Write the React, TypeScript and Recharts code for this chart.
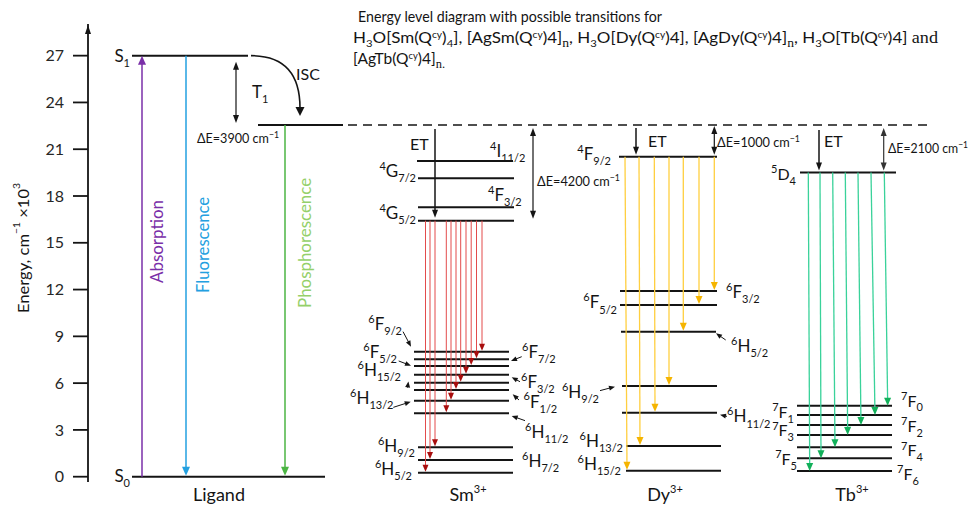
import React from "react";
import {
  ComposedChart,
  XAxis,
  YAxis,
  ReferenceLine,
  ReferenceDot,
  Scatter,
} from "recharts";

const FONT = "Lato, 'Noto Sans', sans-serif";
const SERIF = "'Liberation Serif', 'DejaVu Serif', serif";
const INK = "#141414";

// ---- values (energy in 10^3 cm-1) ----
const yTicks = [0, 3, 6, 9, 12, 15, 18, 21, 24, 27];
const ionNames = ["Ligand", "Sm", "Dy", "Tb"];
const ionCharges = ["", "3+", "3+", "3+"];

const ligandTerms = ["S1", "T1", "S0"];
const ligandEnergy = [27, 22.55, 0];
const ligandBands = ["Absorption", "Fluorescence", "Phosphorescence"];

const smUpperTerms = ["4I11/2", "4G7/2", "4F3/2", "4G5/2"];
const smUpperEnergy = [20.25, 19.14, 17.28, 16.42];
const smLowerTerms = [
  "6F9/2", "6F7/2", "6F5/2", "6F3/2", "6H15/2", "6F1/2",
  "6H13/2", "6H11/2", "6H9/2", "6H7/2", "6H5/2",
];
const smLowerEnergy = [8.02, 7.53, 7.1, 6.54, 6.03, 5.56, 4.87, 4.07, 1.89, 1.07, 0.26];

const dyTerms = ["4F9/2", "6F3/2", "6F5/2", "6H5/2", "6H9/2", "6H11/2", "6H13/2", "6H15/2"];
const dyEnergy = [20.52, 11.91, 11.01, 9.3, 5.82, 4.1, 1.97, 0.38];

const tbTerms = ["5D4", "7F0", "7F1", "7F2", "7F3", "7F4", "7F5", "7F6"];
const tbEnergy = [19.5, 4.55, 3.96, 3.32, 2.68, 1.89, 1.18, 0.37];

// emission: upper level -> index of lower level
const smEmissionTo = [0, 1, 2, 3, 4, 5, 6, 7, 8, 9, 10];
const dyEmissionTo = [1, 2, 3, 4, 5, 6, 7];
const tbEmissionTo = [1, 2, 3, 4, 5, 6, 7];

const deltaE = [3900, 4200, 1000, 2100];

// ---- layout (x in plot px, offsets in px) ----
const X_DOMAIN = [88, 971];
const Y_DOMAIN = [-0.34, 29.03];
const ionCenterX = [219, 468, 665, 852];

const ligandSpan = [[132, 248], [258, 343], [132, 325]];
const dashSpan = [348, 930];
const smUpperSpan = [[417, 513], [418, 514], [418, 514], [418, 514]];
const smLowerSpan = [
  [414, 509], [414, 509], [414, 509], [414, 509], [414, 509], [414, 509],
  [414, 509], [414, 509], [418, 513], [418, 513], [418, 513],
];
const dySpan = [[619, 717], [620, 717], [620, 717], [621, 716], [622, 717], [622, 717], [626, 721], [626, 721]];
const tbSpan = [[800, 896], [797, 892], [797, 892], [797, 892], [797, 892], [797, 892], [797, 892], [797, 892]];

const smEmissionX = [482, 476.5, 471.2, 466, 460.7, 456, 451, 446.3, 435, 430, 425.5];
const dyEmissionX = [[714.3, 714.3], [699, 699], [683.3, 683.3], [669, 669], [654.3, 655], [639, 640], [625, 627]];
const tbEmissionX = [[884.3, 887.7], [871, 875], [858, 861], [845.3, 847.7], [832.7, 835], [820, 821], [808.3, 809.7]];

type Lbl = { x: number; dy: number; a: "start" | "end" | "middle"; ptr?: number[] };

const ligandLbl: Lbl[] = [
  { x: 130, dy: 1, a: "end" },
  { x: 252, dy: -32, a: "start" },
  { x: 130, dy: 0, a: "end" },
];
const smUpperLbl: Lbl[] = [
  { x: 490, dy: -9, a: "start" },
  { x: 416, dy: -6, a: "end" },
  { x: 488, dy: -11, a: "start" },
  { x: 416, dy: -7, a: "end" },
];
const smLowerLbl: Lbl[] = [
  { x: 402, dy: -27, a: "end", ptr: [403, -20, 411, -5] },
  { x: 522, dy: -6, a: "start", ptr: [521.7, -2.6, 511, 1.7] },
  { x: 397, dy: -13, a: "end", ptr: [398.7, -5, 411, -0.3] },
  { x: 521, dy: 8, a: "start", ptr: [520, 7, 511.7, 2.6] },
  { x: 401, dy: -12, a: "end", ptr: [407.6, 5, 408.4, -1.2] },
  { x: 523.5, dy: 12.5, a: "start", ptr: [519, 10, 512.7, 4.3] },
  { x: 393.5, dy: -1.7, a: "end", ptr: [393.3, 6.6, 410.7, 1] },
  { x: 525, dy: 19.4, a: "start", ptr: [525, 7.4, 511.7, 2.7] },
  { x: 415, dy: -0.6, a: "end" },
  { x: 522, dy: 1.7, a: "start" },
  { x: 412, dy: -2.7, a: "end" },
];
const dyLbl: Lbl[] = [
  { x: 611, dy: -1.7, a: "end" },
  { x: 726, dy: 1.7, a: "start" },
  { x: 617, dy: -1.7, a: "end" },
  { x: 731, dy: 15, a: "start", ptr: [725.7, 8.3, 716, 1.6] },
  { x: 599, dy: 7.3, a: "end", ptr: [600, 4.7, 615, 0.7] },
  { x: 727, dy: 4.6, a: "start", ptr: [727, 3.6, 720, 2] },
  { x: 623, dy: -4.3, a: "end" },
  { x: 621, dy: -5.7, a: "end" },
];
const tbLbl: Lbl[] = [
  { x: 796, dy: 2.3, a: "end" },
  { x: 901, dy: -4, a: "start" },
  { x: 794, dy: -1.7, a: "end" },
  { x: 901, dy: 2.3, a: "start" },
  { x: 794, dy: -3.3, a: "end" },
  { x: 901, dy: 4.4, a: "start" },
  { x: 797, dy: 1.7, a: "end" },
  { x: 897, dy: 4, a: "start" },
];

const bandX = [142, 186, 285];
const bandLabelPos = [[156, 15.08], [201.7, 14.86], [304, 14.99]];
const bandLabelLen = [83, 96, 130];

const C = {
  abs: "#7a2fa8",
  flu: "#23a0e0",
  pho: "#4bb543",
  phoText: "#95d06a",
  smLine: "#e34b4b",
  smHead: "#a80d0d",
  dyLine: "#ffcf40",
  dyHead: "#f5b400",
  tbLine: "#3ad29a",
  tbHead: "#12b05a",
};

function headPts(tx: number, ty: number, ux: number, uy: number, L: number, W: number) {
  const bx = tx - ux * L;
  const by = ty - uy * L;
  const nx = -uy;
  const ny = ux;
  return `${tx},${ty} ${bx + (nx * W) / 2},${by + (ny * W) / 2} ${bx - (nx * W) / 2},${by - (ny * W) / 2}`;
}

type ArrowStyle = {
  stroke: string;
  head?: string;
  width?: number;
  heads?: "end" | "both" | "none";
  hl?: number;
  hw?: number;
  padStart?: number;
  padEnd?: number;
  curve?: boolean;
};

function makeArrow(s: ArrowStyle) {
  return (p: any) => {
    const { x1, y1, x2, y2 } = p;
    const hl = s.hl ?? 8;
    const hw = s.hw ?? 7;
    const fill = s.head ?? s.stroke;
    const sw = s.width ?? 1.3;
    if (s.curve) {
      return (
        <g>
          <path d={`M${x1},${y1} Q${x2},${y1} ${x2},${y2 - hl + 1}`} fill="none" stroke={s.stroke} strokeWidth={sw} />
          <polygon points={headPts(x2, y2, 0, 1, hl, hw)} fill={fill} />
        </g>
      );
    }
    const len = Math.hypot(x2 - x1, y2 - y1) || 1;
    const ux = (x2 - x1) / len;
    const uy = (y2 - y1) / len;
    const ps = s.padStart ?? 0;
    const pe = s.padEnd ?? 0;
    const sx = x1 + ux * ps;
    const sy = y1 + uy * ps;
    const ex = x2 - ux * pe;
    const ey = y2 - uy * pe;
    const heads = s.heads ?? "end";
    const hasEnd = heads !== "none";
    const hasStart = heads === "both";
    const lx1 = hasStart ? sx + ux * (hl - 1) : sx;
    const ly1 = hasStart ? sy + uy * (hl - 1) : sy;
    const lx2 = hasEnd ? ex - ux * (hl - 1) : ex;
    const ly2 = hasEnd ? ey - uy * (hl - 1) : ey;
    return (
      <g>
        <line x1={lx1} y1={ly1} x2={lx2} y2={ly2} stroke={s.stroke} strokeWidth={sw} />
        {hasEnd && <polygon points={headPts(ex, ey, ux, uy, hl, hw)} fill={fill} />}
        {hasStart && <polygon points={headPts(sx, sy, -ux, -uy, hl, hw)} fill={fill} />}
      </g>
    );
  };
}

function arrow(key: string, xa: number, ea: number, xb: number, eb: number, s: ArrowStyle) {
  return (
    <ReferenceLine
      key={key}
      segment={[{ x: xa, y: ea }, { x: xb, y: eb }]}
      ifOverflow="visible"
      shape={makeArrow(s)}
    />
  );
}

function level(key: string, span: number[], e: number, dash?: string) {
  return (
    <ReferenceLine
      key={key}
      segment={[{ x: span[0], y: e }, { x: span[1], y: e }]}
      stroke={INK}
      strokeWidth={dash ? 1.5 : 2}
      strokeDasharray={dash}
      ifOverflow="visible"
    />
  );
}

function termText(term: string, x: number, yc: number, anchor: string, size: number) {
  const m = /^(\d*)([A-Za-z]+)(.*)$/.exec(term) as RegExpExecArray;
  const sup = m[1];
  const main = m[2];
  const sub = m[3];
  const small = Math.round(size * 0.66);
  const up = size * 0.42;
  const down = size * 0.3;
  return (
    <text x={x} y={yc + size * 0.3} textAnchor={anchor} fontFamily={FONT} fontSize={size} fill={INK}>
      {sup ? (
        <tspan fontSize={small} dy={-up}>
          {sup}
        </tspan>
      ) : null}
      <tspan dy={sup ? up : 0}>{main}</tspan>
      {sub ? (
        <tspan fontSize={small} dy={down}>
          {sub}
        </tspan>
      ) : null}
    </text>
  );
}

function at(key: string, x: number, e: number, draw: (cx: number, cy: number) => React.ReactElement) {
  return (
    <ReferenceDot
      key={key}
      x={x}
      y={e}
      r={0}
      ifOverflow="visible"
      shape={(p: any) => draw(p.cx, p.cy)}
    />
  );
}

const pointer = makeArrow({ stroke: INK, width: 1, hl: 6, hw: 5 });

function termLabels(prefix: string, terms: string[], energy: number[], lbls: Lbl[], size: number) {
  return terms.map((t, i) => {
    const l = lbls[i];
    return at(prefix + i, l.x, energy[i], (cx, cy) => (
      <g>
        {termText(t, cx, cy + l.dy, l.a, size)}
        {l.ptr
          ? pointer({
              x1: cx + (l.ptr[0] - l.x),
              y1: cy + l.ptr[1],
              x2: cx + (l.ptr[2] - l.x),
              y2: cy + l.ptr[3],
            })
          : null}
      </g>
    ));
  });
}

function plainText(key: string, x: number, e: number, dy: number, text: React.ReactNode, opts: any = {}) {
  return at(key, x, e, (cx, cy) => (
    <text
      x={cx}
      y={cy + dy + (opts.size ?? 16) * 0.33}
      textAnchor={opts.anchor ?? "start"}
      fontFamily={FONT}
      fontSize={opts.size ?? 16}
      fill={INK}
      textLength={opts.len}
      lengthAdjust={opts.len ? "spacingAndGlyphs" : undefined}
    >
      {text}
    </text>
  ));
}

function deltaText(v: number) {
  return (
    <>
      <tspan>{`ΔE=${v} cm`}</tspan>
      <tspan fontSize={9} dy={-5}>
        −1
      </tspan>
    </>
  );
}

type Seg = [string, string?];
const titleLine1: Seg[] = [["Energy level diagram with possible transitions for"]];
const titleLine2: Seg[] = [
  ["H"], ["3", "sub"], ["O[Sm(Q"], ["cy", "sup"], [")"], ["4", "sub"], ["], [AgSm(Q"], ["cy", "sup"],
  [")4]"], ["n", "subS"], [", H"], ["3", "sub"], ["O[Dy(Q"], ["cy", "sup"], [")4], [AgDy(Q"], ["cy", "sup"],
  [")4]"], ["n", "subS"], [", H"], ["3", "sub"], ["O[Tb(Q"], ["cy", "sup"], [")4] "], ["and", "serif"],
];
const titleLine3: Seg[] = [["[AgTb(Q"], ["cy", "sup"], [")4]"], ["n.", "subS"]];

function TitleLine({ segs, x, y, len }: { segs: Seg[]; x: number; y: number; len: number }) {
  let cur = 0;
  return (
    <text x={x} y={y} fontFamily={FONT} fontSize={15} fill={INK} textLength={len} lengthAdjust="spacingAndGlyphs">
      {segs.map(([t, k], i) => {
        const target = k === "sub" || k === "subS" ? 4 : k === "sup" ? -5 : 0;
        const dy = target - cur;
        cur = target;
        const fs = k === "sub" ? 10 : k === "sup" ? 9 : k === "subS" ? 12 : k === "serif" ? 16 : 15;
        const ff = k === "subS" || k === "serif" ? SERIF : FONT;
        return (
          <tspan key={i} dy={dy} fontSize={fs} fontFamily={ff}>
            {t}
          </tspan>
        );
      })}
    </text>
  );
}

const axisTitle = (p: any) => {
  const vb = p.viewBox || { x: 0, y: 24, width: 88, height: 458 };
  const cx = vb.x + 22;
  const cy = vb.y + vb.height / 2 - 5;
  return (
    <text
      x={cx}
      y={cy}
      transform={`rotate(-90 ${cx} ${cy})`}
      textAnchor="middle"
      dominantBaseline="central"
      fontFamily={FONT}
      fontSize={16}
      fill={INK}
      textLength={130}
      lengthAdjust="spacingAndGlyphs"
    >
      <tspan>Energy, cm</tspan>
      <tspan fontSize={10} dy={-6}>
        −1
      </tspan>
      <tspan dy={6}> ×10</tspan>
      <tspan fontSize={10} dy={-6}>
        3
      </tspan>
    </text>
  );
};

const ionTick = (p: any) => {
  const i = ionCenterX.indexOf(p.payload.value);
  return (
    <text x={p.x} y={501} textAnchor="middle" fontFamily={FONT} fontSize={18} fill={INK}>
      <tspan>{ionNames[i]}</tspan>
      {ionCharges[i] ? (
        <tspan fontSize={11} dy={-8}>
          {ionCharges[i]}
        </tspan>
      ) : null}
    </text>
  );
};

const anchorPoint = [{ x: ionCenterX[0], y: 0 }];

export default function App() {
  const T1 = ligandEnergy[1];
  const S1 = ligandEnergy[0];
  const S0 = ligandEnergy[2];
  const smTop = smUpperEnergy[3];
  const dyTop = dyEnergy[0];
  const tbTop = tbEnergy[0];
  const black = { stroke: INK, width: 1.2, hl: 8, hw: 6 };

  return (
    <div style={{ position: "absolute", left: 0, top: 0, width: 971, height: 506, background: "#fff" }}>
      <ComposedChart width={971} height={506} margin={{ top: 24, right: 0, bottom: 0, left: 0 }}>
        <XAxis
          type="number"
          dataKey="x"
          domain={X_DOMAIN}
          allowDataOverflow
          ticks={ionCenterX}
          interval={0}
          axisLine={false}
          tickLine={false}
          height={24}
          tick={ionTick}
        />
        <YAxis
          type="number"
          domain={Y_DOMAIN}
          allowDataOverflow
          ticks={yTicks}
          interval={0}
          width={88}
          tickSize={15}
          tickMargin={9}
          axisLine={{ stroke: INK, strokeWidth: 1.8 }}
          tickLine={{ stroke: INK, strokeWidth: 1.8 }}
          tick={{ fill: "#262626", fontSize: 16, fontFamily: FONT }}
          label={axisTitle}
        />
        <Scatter data={anchorPoint} dataKey="y" shape={() => <g />} isAnimationActive={false} />

        {at("yarrow", X_DOMAIN[0], Y_DOMAIN[1], (cx, cy) => (
          <polygon points={headPts(cx, cy + 1, 0, -1, 9, 6)} fill={INK} />
        ))}

        {/* energy levels */}
        {ligandEnergy.map((e, i) => level("lg" + i, ligandSpan[i], e))}
        {level("dash", dashSpan, T1, "9 6")}
        {smUpperEnergy.map((e, i) => level("su" + i, smUpperSpan[i], e))}
        {smLowerEnergy.map((e, i) => level("sl" + i, smLowerSpan[i], e))}
        {dyEnergy.map((e, i) => level("dy" + i, dySpan[i], e))}
        {tbEnergy.map((e, i) => level("tb" + i, tbSpan[i], e))}

        {/* ligand transitions */}
        {arrow("abs", bandX[0], S0, bandX[0], S1, { stroke: C.abs, width: 1.5, hl: 9, hw: 8 })}
        {arrow("flu", bandX[1], S1, bandX[1], S0, { stroke: C.flu, width: 1.5, hl: 9, hw: 8, padEnd: 1 })}
        {arrow("pho", bandX[2], T1, bandX[2], S0, { stroke: C.pho, width: 1.5, hl: 9, hw: 8, padEnd: 1 })}
        {arrow("isc", 251, S1, 300, 23.13, { stroke: INK, width: 1.6, hl: 9, hw: 9, curve: true })}
        {arrow("dEl", 236, S1, 236, T1, { ...black, heads: "both", padStart: 6, padEnd: 2 })}

        {/* energy transfer */}
        {arrow("etSm", 435, T1, 435, smTop, { ...black, width: 1.5, padStart: 4, padEnd: 3 })}
        {arrow("dESm", 533, T1, 533, smTop, { ...black, heads: "both", padStart: 3, padEnd: 2 })}
        {arrow("etDy", 636, T1, 636, dyTop, { ...black, width: 1.5, padStart: 3, padEnd: 2 })}
        {arrow("dEDy", 714.3, T1, 714.3, dyTop, { ...black, heads: "both", padStart: 1, padEnd: 2 })}
        {arrow("etTb", 819, T1, 819, tbTop, { ...black, width: 1.5, padStart: 5, padEnd: 2 })}
        {arrow("dETb", 883.7, T1, 883.7, tbTop, { ...black, stroke: "#333", heads: "both", padStart: 3, padEnd: 2 })}

        {/* lanthanide emissions */}
        {smEmissionTo.map((j, i) =>
          arrow("sme" + i, smEmissionX[i], smTop, smEmissionX[i], smLowerEnergy[j], {
            stroke: C.smLine,
            head: C.smHead,
            width: 1,
            hl: 7,
            hw: 6,
            padEnd: 1,
          })
        )}
        {dyEmissionTo.map((j, i) =>
          arrow("dye" + i, dyEmissionX[i][0], dyTop, dyEmissionX[i][1], dyEnergy[j], {
            stroke: C.dyLine,
            head: C.dyHead,
            width: 1.3,
            hl: 8,
            hw: 7,
            padEnd: 1,
          })
        )}
        {tbEmissionTo.map((j, i) =>
          arrow("tbe" + i, tbEmissionX[i][0], tbTop, tbEmissionX[i][1], tbEnergy[j], {
            stroke: C.tbLine,
            head: C.tbHead,
            width: 1.3,
            hl: 8,
            hw: 7,
            padEnd: 0,
          })
        )}

        {/* term labels */}
        {termLabels("lgl", ligandTerms, ligandEnergy, ligandLbl, 17)}
        {termLabels("sul", smUpperTerms, smUpperEnergy, smUpperLbl, 17)}
        {termLabels("sll", smLowerTerms, smLowerEnergy, smLowerLbl, 17)}
        {termLabels("dyl", dyTerms, dyEnergy, dyLbl, 17)}
        {termLabels("tbl", tbTerms, tbEnergy, tbLbl, 16)}

        {/* band labels */}
        {ligandBands.map((b, i) =>
          at("band" + i, bandLabelPos[i][0], bandLabelPos[i][1], (cx, cy) => (
            <text
              x={cx}
              y={cy}
              transform={`rotate(-90 ${cx} ${cy})`}
              textAnchor="middle"
              dominantBaseline="central"
              fontFamily={FONT}
              fontSize={18}
              fill={i === 0 ? C.abs : i === 1 ? C.flu : C.phoText}
              textLength={bandLabelLen[i]}
              lengthAdjust="spacingAndGlyphs"
            >
              {b}
            </text>
          ))
        )}

        {plainText("isc", 296, S1, 19, "ISC", { size: 16 })}
        {plainText("etS", 410, T1, 20, "ET", { size: 16 })}
        {plainText("etD", 648, T1, 17, "ET", { size: 16 })}
        {plainText("etT", 824, T1, 17, "ET", { size: 16 })}
        {plainText("dE0", 238, T1, 14, deltaText(deltaE[0]), { size: 13, anchor: "middle", len: 82 })}
        {plainText("dE1", 537, (T1 + smTop) / 2, 9, deltaText(deltaE[1]), { size: 13, len: 83 })}
        {plainText("dE2", 717, (T1 + dyTop) / 2, 2, deltaText(deltaE[2]), { size: 13, len: 83 })}
        {plainText("dE3", 888, (T1 + tbTop) / 2, 0, deltaText(deltaE[3]), { size: 13, len: 80 })}
      </ComposedChart>

      <svg width={971} height={506} style={{ position: "absolute", left: 0, top: 0, pointerEvents: "none" }}>
        <TitleLine segs={titleLine1} x={358} y={22} len={304} />
        <TitleLine segs={titleLine2} x={353} y={42.5} len={585} />
        <TitleLine segs={titleLine3} x={353} y={64} len={92} />
      </svg>
    </div>
  );
}
